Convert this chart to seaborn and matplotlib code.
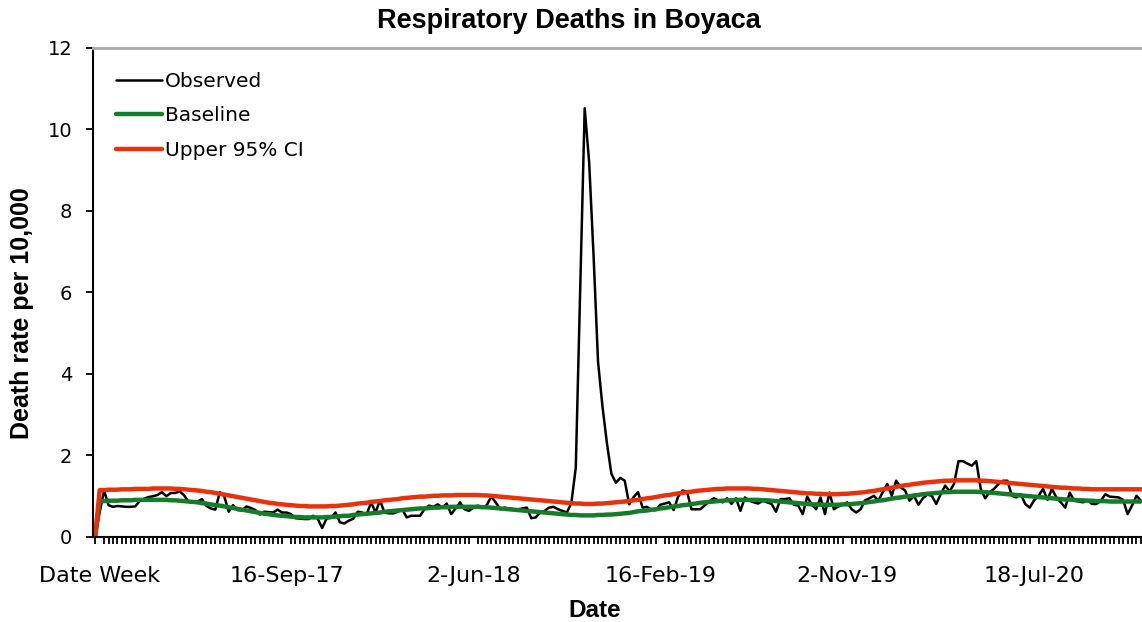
import matplotlib
matplotlib.use("Agg")
import matplotlib.pyplot as plt
from matplotlib.ticker import FixedLocator
import seaborn as sns
import pandas as pd
import numpy as np

# weekly death rates per 10,000 (first row is the header row "Date Week" = 0)
observed = [
    0, 0.60, 1.14, 0.78, 0.74, 0.76, 0.75, 0.74, 0.74, 0.75,
    0.88, 0.94, 0.98, 1.00, 1.03, 1.10, 1.00, 1.08, 1.08, 1.12,
    1.02, 0.86, 0.85, 0.87, 0.93, 0.76, 0.70, 0.67, 1.10, 1.00,
    0.62, 0.78, 0.66, 0.65, 0.75, 0.71, 0.66, 0.55, 0.62, 0.61,
    0.60, 0.67, 0.60, 0.60, 0.56, 0.46, 0.45, 0.44, 0.44, 0.52,
    0.45, 0.22, 0.45, 0.47, 0.60, 0.36, 0.33, 0.40, 0.45, 0.62,
    0.60, 0.55, 0.85, 0.60, 0.90, 0.60, 0.58, 0.58, 0.62, 0.68,
    0.48, 0.52, 0.52, 0.52, 0.68, 0.77, 0.74, 0.80, 0.72, 0.82,
    0.56, 0.70, 0.85, 0.68, 0.64, 0.72, 0.77, 0.72, 0.78, 0.99,
    0.85, 0.68, 0.72, 0.70, 0.68, 0.68, 0.70, 0.72, 0.46, 0.48,
    0.60, 0.64, 0.72, 0.74, 0.68, 0.64, 0.60, 0.83, 1.70, 6.10,
    10.52, 9.20, 6.90, 4.30, 3.20, 2.30, 1.55, 1.33, 1.45, 1.38,
    0.80, 0.98, 1.10, 0.72, 0.74, 0.66, 0.66, 0.79, 0.82, 0.85,
    0.66, 0.99, 1.14, 1.11, 0.68, 0.68, 0.68, 0.78, 0.87, 0.95,
    0.90, 0.85, 0.95, 0.81, 0.95, 0.64, 0.97, 0.89, 0.85, 0.82,
    0.89, 0.85, 0.81, 0.62, 0.93, 0.93, 0.95, 0.79, 0.77, 0.56,
    0.99, 0.80, 0.68, 0.97, 0.56, 1.09, 0.68, 0.75, 0.79, 0.85,
    0.68, 0.60, 0.68, 0.90, 0.95, 1.01, 0.89, 1.10, 1.30, 1.01,
    1.38, 1.22, 1.14, 0.89, 1.01, 0.79, 0.95, 1.04, 1.01, 0.81,
    1.05, 1.26, 1.12, 1.30, 1.86, 1.86, 1.80, 1.75, 1.86, 1.18,
    0.95, 1.10, 1.18, 1.30, 1.38, 1.38, 1.01, 0.97, 1.05, 0.81,
    0.72, 0.90, 1.01, 1.18, 0.91, 1.18, 0.97, 0.85, 0.72, 1.09,
    0.89, 0.87, 0.85, 0.91, 0.81, 0.81, 0.89, 1.05, 0.99, 0.98,
    0.97, 0.91, 0.56, 0.77, 1.01, 0.89,
]

baseline = [
    0, 0.88, 0.88, 0.89, 0.89, 0.89, 0.90, 0.90, 0.90, 0.91,
    0.91, 0.91, 0.91, 0.91, 0.91, 0.91, 0.91, 0.90, 0.90, 0.89,
    0.88, 0.87, 0.86, 0.85, 0.83, 0.82, 0.80, 0.78, 0.77, 0.75,
    0.73, 0.71, 0.69, 0.67, 0.65, 0.63, 0.61, 0.59, 0.57, 0.56,
    0.54, 0.53, 0.52, 0.51, 0.50, 0.49, 0.49, 0.48, 0.48, 0.48,
    0.48, 0.48, 0.49, 0.49, 0.50, 0.51, 0.52, 0.52, 0.54, 0.55,
    0.56, 0.57, 0.58, 0.59, 0.60, 0.62, 0.63, 0.64, 0.65, 0.66,
    0.67, 0.68, 0.69, 0.70, 0.70, 0.71, 0.72, 0.72, 0.73, 0.73,
    0.74, 0.74, 0.74, 0.74, 0.74, 0.74, 0.74, 0.73, 0.73, 0.72,
    0.71, 0.70, 0.69, 0.68, 0.67, 0.66, 0.65, 0.64, 0.63, 0.62,
    0.61, 0.60, 0.59, 0.58, 0.57, 0.56, 0.55, 0.54, 0.54, 0.53,
    0.53, 0.53, 0.53, 0.54, 0.54, 0.55, 0.55, 0.56, 0.57, 0.58,
    0.59, 0.61, 0.63, 0.64, 0.65, 0.67, 0.68, 0.70, 0.71, 0.73,
    0.75, 0.76, 0.78, 0.79, 0.81, 0.82, 0.84, 0.85, 0.86, 0.87,
    0.88, 0.89, 0.90, 0.90, 0.91, 0.91, 0.91, 0.91, 0.91, 0.91,
    0.90, 0.90, 0.89, 0.88, 0.87, 0.86, 0.85, 0.84, 0.83, 0.82,
    0.81, 0.80, 0.80, 0.79, 0.79, 0.79, 0.79, 0.79, 0.80, 0.80,
    0.81, 0.82, 0.83, 0.84, 0.86, 0.87, 0.89, 0.90, 0.92, 0.94,
    0.96, 0.97, 0.99, 1.00, 1.02, 1.03, 1.05, 1.06, 1.07, 1.08,
    1.09, 1.10, 1.10, 1.11, 1.11, 1.11, 1.11, 1.11, 1.11, 1.10,
    1.10, 1.09, 1.08, 1.07, 1.06, 1.05, 1.04, 1.03, 1.02, 1.01,
    1.00, 0.99, 0.98, 0.97, 0.96, 0.95, 0.94, 0.93, 0.92, 0.92,
    0.91, 0.90, 0.90, 0.89, 0.89, 0.88, 0.88, 0.88, 0.87, 0.87,
    0.87, 0.87, 0.87, 0.87, 0.87, 0.87,
]

upper_ci = [
    0, 1.15, 1.15, 1.16, 1.16, 1.16, 1.17, 1.17, 1.17, 1.18,
    1.18, 1.18, 1.18, 1.19, 1.19, 1.19, 1.19, 1.19, 1.18, 1.18,
    1.17, 1.16, 1.15, 1.14, 1.13, 1.11, 1.10, 1.08, 1.06, 1.04,
    1.02, 1.00, 0.98, 0.96, 0.94, 0.92, 0.90, 0.88, 0.86, 0.84,
    0.83, 0.81, 0.80, 0.79, 0.78, 0.77, 0.76, 0.76, 0.75, 0.75,
    0.75, 0.75, 0.75, 0.76, 0.76, 0.77, 0.78, 0.79, 0.80, 0.82,
    0.83, 0.84, 0.86, 0.87, 0.88, 0.90, 0.91, 0.92, 0.93, 0.95,
    0.96, 0.97, 0.98, 0.99, 0.99, 1.00, 1.01, 1.01, 1.02, 1.02,
    1.02, 1.03, 1.03, 1.03, 1.03, 1.03, 1.03, 1.02, 1.02, 1.01,
    1.00, 0.99, 0.98, 0.97, 0.96, 0.95, 0.94, 0.93, 0.92, 0.91,
    0.90, 0.89, 0.88, 0.87, 0.86, 0.85, 0.84, 0.83, 0.82, 0.82,
    0.81, 0.81, 0.81, 0.82, 0.82, 0.83, 0.84, 0.85, 0.86, 0.87,
    0.88, 0.90, 0.91, 0.93, 0.95, 0.96, 0.98, 1.00, 1.02, 1.03,
    1.05, 1.07, 1.08, 1.10, 1.11, 1.13, 1.14, 1.15, 1.16, 1.17,
    1.18, 1.18, 1.19, 1.19, 1.19, 1.19, 1.19, 1.19, 1.18, 1.18,
    1.17, 1.16, 1.15, 1.14, 1.13, 1.12, 1.11, 1.10, 1.09, 1.08,
    1.07, 1.07, 1.06, 1.06, 1.05, 1.05, 1.05, 1.05, 1.06, 1.06,
    1.07, 1.08, 1.09, 1.10, 1.12, 1.13, 1.15, 1.17, 1.19, 1.21,
    1.23, 1.25, 1.27, 1.28, 1.30, 1.31, 1.33, 1.34, 1.35, 1.36,
    1.37, 1.38, 1.38, 1.39, 1.39, 1.39, 1.39, 1.39, 1.39, 1.38,
    1.38, 1.37, 1.36, 1.35, 1.34, 1.33, 1.32, 1.31, 1.30, 1.29,
    1.28, 1.27, 1.26, 1.25, 1.24, 1.23, 1.22, 1.21, 1.21, 1.20,
    1.19, 1.19, 1.18, 1.18, 1.17, 1.17, 1.17, 1.17, 1.17, 1.17,
    1.17, 1.17, 1.17, 1.17, 1.17, 1.17,
]

date_labels = ["Date Week", "16-Sep-17", "2-Jun-18", "16-Feb-19", "2-Nov-19", "18-Jul-20"]
label_step = 42

df = pd.DataFrame({
    "week": np.arange(len(observed)),
    "Observed": observed,
    "Baseline": baseline,
    "Upper 95% CI": upper_ci,
})

sns.set_theme(style="white")
plt.rcParams["font.family"] = ["DejaVu Sans"]
plt.rcParams.update({"text.color": "black", "axes.labelcolor": "black",
                     "xtick.color": "black", "ytick.color": "black"})

fig = plt.figure(figsize=(11.42, 6.22), dpi=100)
ax = fig.add_axes([0.0814, 0.1367, 0.9313, 0.7862])

sns.lineplot(data=df, x="week", y="Observed", ax=ax, color="black", lw=1.8, label="Observed")
sns.lineplot(data=df, x="week", y="Baseline", ax=ax, color="#167B2B", lw=3.2, label="Baseline")
sns.lineplot(data=df, x="week", y="Upper 95% CI", ax=ax, color="#E8320C", lw=3.2, label="Upper 95% CI")

ax.set_xlim(-0.5, 238.5)
ax.set_ylim(0, 12)
ax.set_yticks(range(0, 13, 2))
ax.tick_params(axis="y", labelsize=14, length=5, width=1.3, color="black", pad=10, left=True)

# a tick for every week, labels every label_step weeks
ax.xaxis.set_minor_locator(FixedLocator(df["week"].values))
ax.set_xticks([i * label_step + 1 for i in range(len(date_labels))], date_labels)
ax.tick_params(axis="x", which="major", labelsize=16, length=0, pad=21)
ax.tick_params(axis="x", which="minor", length=5, width=1.3, color="black", bottom=True)

for side in ["left", "bottom"]:
    ax.spines[side].set_color("black")
    ax.spines[side].set_linewidth(1.5)
ax.spines["top"].set_color("#aaaaaa")
ax.spines["top"].set_linewidth(2)
ax.spines["right"].set_visible(False)

bold = dict(family="Liberation Sans", weight="bold")
ax.set_xlabel("Date", fontsize=17.5, **bold)
ax.xaxis.set_label_coords((595 - 93) / 1063.6, -0.126)
ax.set_ylabel("Death rate per 10,000", fontsize=18, **bold)
ax.yaxis.set_label_coords(-0.0555, 0.458)
fig.text(0.498, 0.967, "Respiratory Deaths in Boyaca", ha="center", va="center", fontsize=19.5, **bold)

ax.legend(loc="upper left", bbox_to_anchor=(0.012, 0.972), frameon=False, fontsize=14.5,
          handlelength=2.3, handletextpad=0.15, labelspacing=0.78, borderpad=0)

fig.savefig("out.png", dpi=100)
